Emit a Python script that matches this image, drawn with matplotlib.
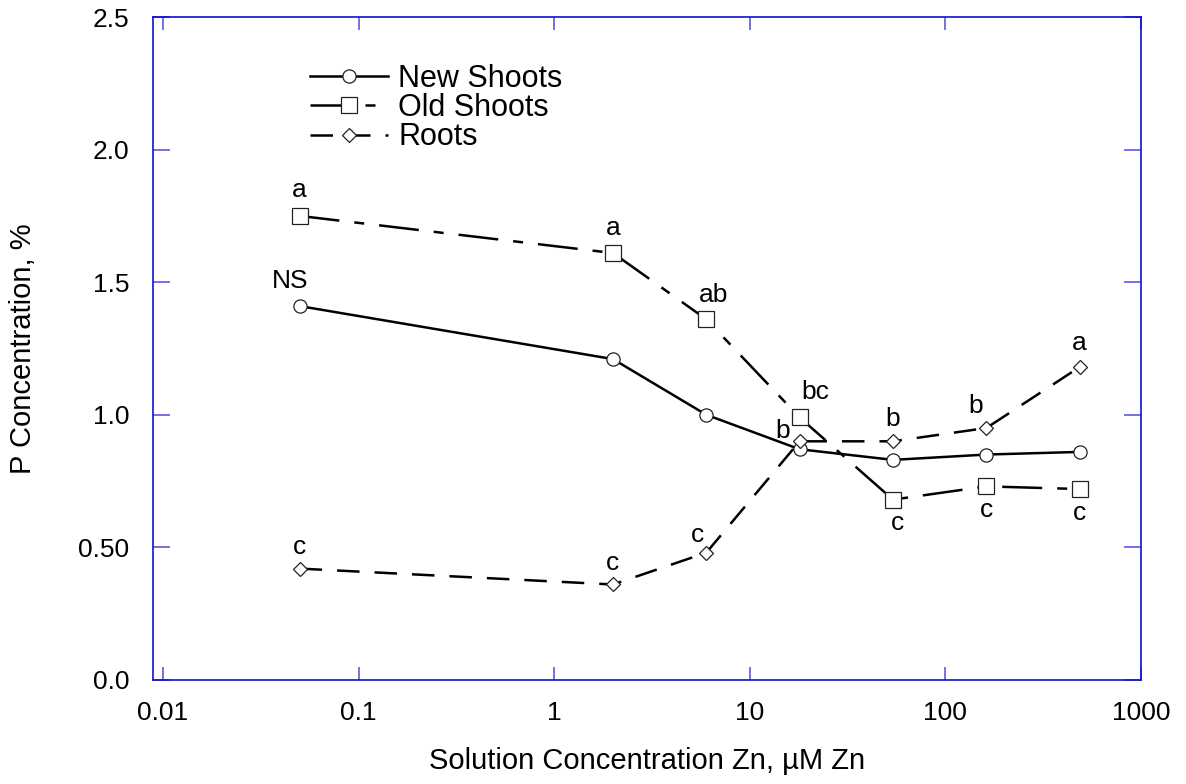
# P concentration in plant tissues vs solution Zn concentration

import matplotlib.pyplot as plt
from matplotlib.ticker import FixedLocator, FixedFormatter, NullLocator

plt.rcParams['font.family'] = ['Liberation Sans', 'DejaVu Sans']

# Дані
zn = [0.05, 2, 6, 18, 54, 162, 486]
new_shoots = [1.41, 1.21, 1.00, 0.87, 0.83, 0.85, 0.86]
old_shoots = [1.75, 1.61, 1.36, 0.99, 0.68, 0.73, 0.72]
roots = [0.42, 0.36, 0.48, 0.90, 0.90, 0.95, 1.18]

old_letters = ['a', 'a', 'ab', 'bc', 'c', 'c', 'c']
root_letters = ['c', 'c', 'c', 'b', 'b', 'b', 'a']

x_ticks = [0.01, 0.1, 1, 10, 100, 1000]
x_labels = ['0.01', '0.1', '1', '10', '100', '1000']
y_ticks = [0.0, 0.5, 1.0, 1.5, 2.0, 2.5]
y_labels = ['0.0', '0.50', '1.0', '1.5', '2.0', '2.5']

spine_col = '#1010d0'
tick_col = '#5a5ae6'

fig = plt.figure(figsize=(11.86, 7.84), dpi=100)
ax = fig.add_axes([0.129, 0.1327, 0.833, 0.8456])

mk = dict(markerfacecolor='white', markeredgecolor='#222222', markeredgewidth=0.9)
ax.plot(zn, new_shoots, color='black', lw=1.8, marker='o', markersize=9.5,
        label='New Shoots', **mk)
ax.plot(zn, old_shoots, color='black', lw=1.8, marker='s', markersize=11,
        linestyle=(0, (16, 6, 4, 6)), label='Old Shoots', **mk)
ax.plot(zn, roots, color='black', lw=1.8, marker='D', markersize=6.8,
        linestyle=(0, (9, 6)), label='Roots', **mk)

# подписи (смещения в пикселях)
fs = 19
off_old = [(0, 26), (0, 25), (7, 24), (16, 25), (5, -23), (0, -24), (0, -24)]
for x, y, t, o in zip(zn, old_shoots, old_letters, off_old):
    ax.annotate(t, (x, y), xytext=o, textcoords='offset pixels',
                fontsize=fs, ha='center', va='center')
off_root = [(0, 22), (0, 21), (-9, 18), (-17, 10), (0, 22), (-11, 22), (0, 24)]
for x, y, t, o in zip(zn, roots, root_letters, off_root):
    ax.annotate(t, (x, y), xytext=o, textcoords='offset pixels',
                fontsize=fs, ha='center', va='center')
ax.annotate('NS', (zn[0], new_shoots[0]), xytext=(-9, 25), textcoords='offset pixels',
            fontsize=fs, ha='center', va='center')

ax.set_xscale('log')
ax.set_xlim(0.0089, 1000)
ax.set_ylim(0, 2.5)
ax.xaxis.set_major_locator(FixedLocator(x_ticks))
ax.xaxis.set_major_formatter(FixedFormatter(x_labels))
ax.xaxis.set_minor_locator(NullLocator())
ax.yaxis.set_major_locator(FixedLocator(y_ticks))
ax.yaxis.set_major_formatter(FixedFormatter(y_labels))

ax.tick_params(which='both', direction='in', top=True, right=True,
               width=1.2, color=tick_col, labelsize=19)
ax.tick_params(axis='x', length=9.5, pad=15)
ax.tick_params(axis='y', length=12, pad=17)
for s in ax.spines.values():
    s.set_color(spine_col)
    s.set_linewidth(1.2)

ax.set_xlabel('Solution Concentration Zn, µM Zn', fontsize=21, labelpad=16)
ax.set_ylabel('P Concentration, %', fontsize=21, labelpad=30)

ax.legend(loc='upper left', bbox_to_anchor=(0.159, 0.929), frameon=False,
          fontsize=22, handlelength=2.55, handletextpad=0.33, labelspacing=-0.03,
          borderaxespad=0, borderpad=0)

fig.savefig('out.png', dpi=100)
plt.close(fig)
